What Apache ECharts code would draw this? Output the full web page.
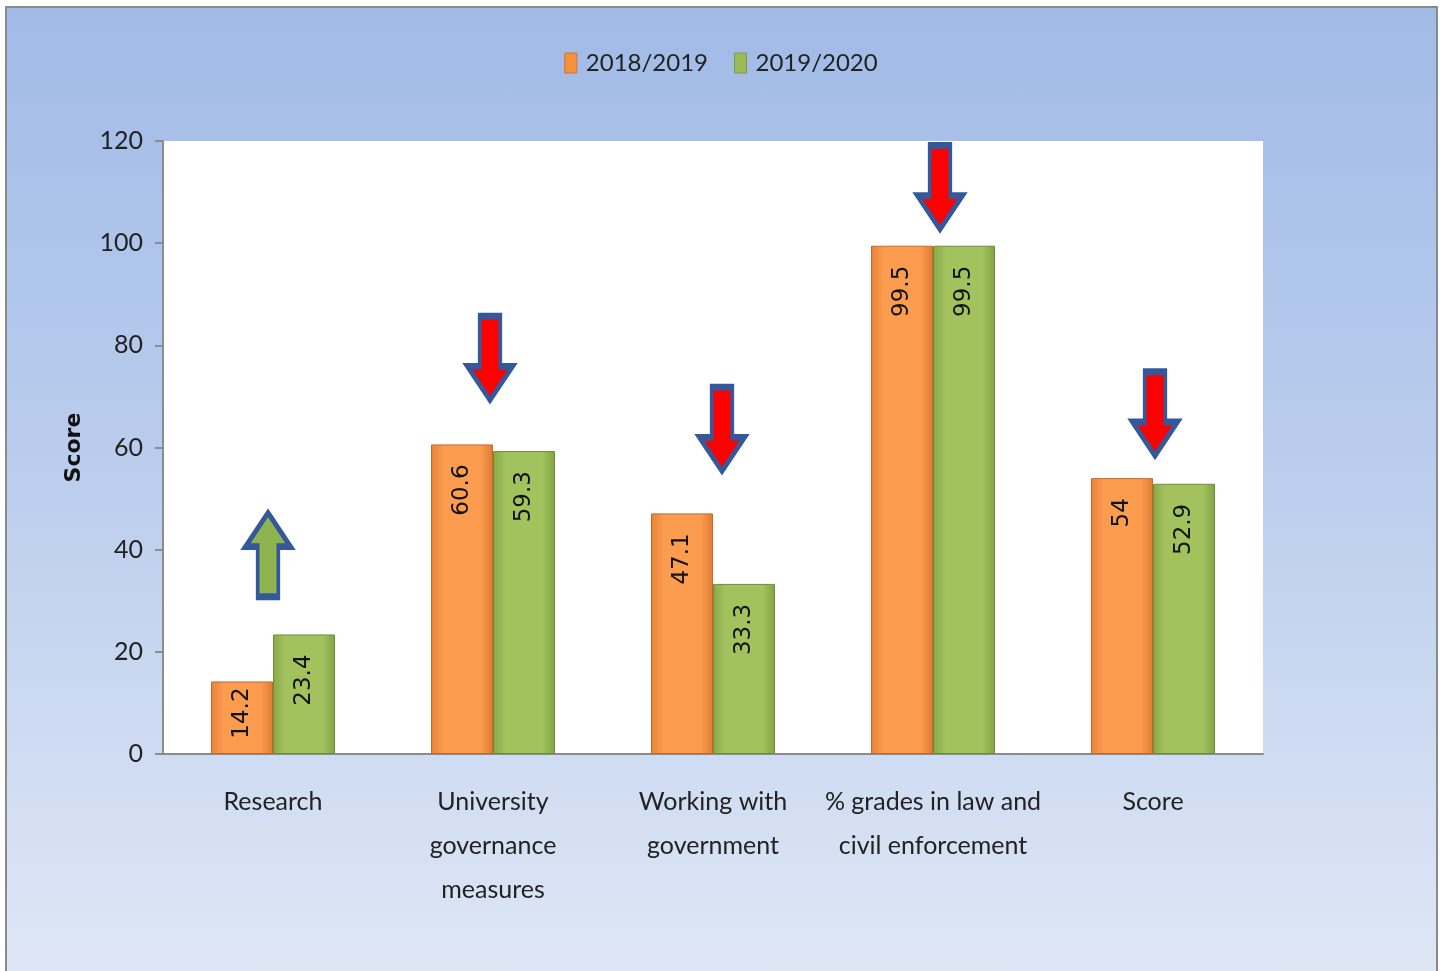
<!DOCTYPE html>
<html>
<head>
<meta charset="utf-8">
<script src="https://cdn.jsdelivr.net/npm/echarts@6/dist/echarts.min.js"></script>
<style>
  html, body { margin: 0; padding: 0; background: #fff; }
  #bg { position: absolute; left: 5px; top: 6px; width: 1429px; height: 970px;
        border-left: 2px solid #8a8a8a; border-top: 2px solid #8a8a8a; border-right: 2px solid #8a8a8a;
        background: linear-gradient(to bottom, #a1bbe7 0%, #b9cced 45%, #dfe7f5 100%); }
  #chart { position: absolute; left: 0; top: 0; width: 1442px; height: 971px; }
</style>
</head>
<body>
<div id="bg"></div>
<div id="chart"></div>
<script>
// ---- data ----
const categories = ['Research', 'University\ngovernance\nmeasures', 'Working with\ngovernment', '% grades in law and\ncivil enforcement', 'Score'];
const seriesNames = ['2018/2019', '2019/2020'];
const values2018 = [14.2, 60.6, 47.1, 99.5, 54];
const values2019 = [23.4, 59.3, 33.3, 99.5, 52.9];
const yTicks = { min: 0, max: 120, interval: 20 };
// trend arrows: [category index, vertical centre value, direction]
const arrowCats = [0, 1, 2, 3, 4];
const arrowValues = [39, 77.5, 63.6, 110.9, 66.6];
const arrowDirs = ['up', 'down', 'down', 'down', 'down'];

const chart = echarts.init(document.getElementById('chart'), null, { renderer: 'canvas' });

const orangeFill = new echarts.graphic.LinearGradient(0, 0, 1, 0, [
  { offset: 0, color: '#e9823a' }, { offset: 0.2, color: '#fb9c4f' },
  { offset: 0.8, color: '#fb9c4f' }, { offset: 1, color: '#e07a33' }]);
const greenFill = new echarts.graphic.LinearGradient(0, 0, 1, 0, [
  { offset: 0, color: '#86a947' }, { offset: 0.2, color: '#a2c25e' },
  { offset: 0.8, color: '#a2c25e' }, { offset: 1, color: '#81a343' }]);

const downPath = 'path://M13,0 L35,0 L35,52 L48,52 L24,87 L0,52 L13,52 Z';
const upPath = 'path://M24,0 L48,35 L35,35 L35,87 L13,87 L13,35 L0,35 Z';
const arrowOffsets = [-5, -3, 9, 7, 2];

const labelBase = {
  show: true, position: 'insideTop', rotate: 90, distance: 20,
  align: 'right', verticalAlign: 'middle',
  fontFamily: 'DejaVu Sans', fontSize: 23, color: '#111'
};

function barData(vals) {
  return vals.map(v => v < 20 ? { value: v, label: { distance: 6 } } : v);
}

const option = {
  backgroundColor: 'transparent',
  animation: false,
  legend: {
    data: [
      { name: seriesNames[0], itemStyle: { color: '#f4913f', borderColor: '#d0752e', borderWidth: 1 } },
      { name: seriesNames[1], itemStyle: { color: '#9bbb59', borderColor: '#7c9a42', borderWidth: 1 } }
    ],
    top: 46, left: 'center',
    icon: 'rect',
    itemWidth: 12, itemHeight: 20, itemGap: 26,
    textStyle: { fontFamily: 'Lato', fontSize: 24, color: '#222', padding: [0, 0, 0, 4] }
  },
  grid: { left: 163, right: 179, top: 141, bottom: 217, show: true, backgroundColor: '#ffffff', borderWidth: 0 },
  xAxis: {
    type: 'category', data: categories,
    axisLine: { show: true, lineStyle: { color: '#8c8c8c', width: 2 } },
    axisTick: { show: false },
    axisLabel: { fontFamily: 'Lato', fontSize: 25, color: '#222', lineHeight: 44, margin: 26, interval: 0 }
  },
  yAxis: {
    type: 'value', min: yTicks.min, max: yTicks.max, interval: yTicks.interval,
    name: 'Score', nameLocation: 'middle', nameRotate: 90, nameGap: 78,
    nameTextStyle: { fontFamily: 'DejaVu Sans', fontWeight: 'bold', fontSize: 22, color: '#111' },
    axisLine: { show: true, lineStyle: { color: '#8c8c8c', width: 2 } },
    axisTick: { show: true, length: 8, lineStyle: { color: '#8c8c8c', width: 2 } },
    splitLine: { show: false },
    axisLabel: { fontFamily: 'Lato', fontSize: 25, color: '#222', margin: 20 }
  },
  series: [
    {
      name: seriesNames[0], type: 'bar', data: barData(values2018),
      barWidth: 62, barGap: '0%',
      itemStyle: { color: orangeFill, borderColor: '#c4692a', borderWidth: 1 },
      label: labelBase
    },
    {
      name: seriesNames[1], type: 'bar', data: barData(values2019),
      barWidth: 62, barGap: '0%',
      itemStyle: { color: greenFill, borderColor: '#6f8d36', borderWidth: 1 },
      label: labelBase
    },
    {
      type: 'scatter', silent: true, z: 5,
      data: arrowCats.map((c, i) => ({
        value: [c, arrowValues[i]],
        symbol: arrowDirs[i] === 'up' ? upPath : downPath,
        symbolOffset: [arrowOffsets[i], 0],
        itemStyle: { color: arrowDirs[i] === 'up' ? '#8fb34f' : '#ff0000' }
      })),
      symbolSize: [45, 84],
      symbolKeepAspect: false,
      itemStyle: { borderColor: '#34589a', borderWidth: 5, opacity: 1 }
    }
  ]
};
chart.setOption(option);
</script>
</body>
</html>
